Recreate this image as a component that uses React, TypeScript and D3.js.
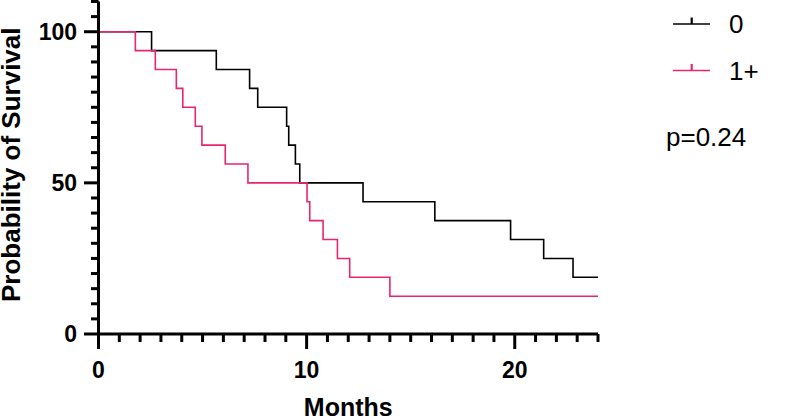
import React from "react";
import * as d3 from "d3";

const group0Times = [0, 2.55, 5.66, 7.26, 7.65, 9.04, 9.14, 9.46, 9.67, 12.71, 16.16, 19.8, 21.39, 22.8, 24];
const group0Surv = [100, 93.75, 87.5, 81.25, 75, 68.75, 62.5, 56.25, 50, 43.75, 37.5, 31.25, 25, 18.75, 18.75];
const group1Times = [0, 1.77, 2.73, 3.74, 4.05, 4.65, 4.97, 6.09, 7.18, 10.02, 10.15, 10.79, 11.48, 12.07, 14.0, 24];
const group1Surv = [100, 93.75, 87.5, 81.25, 75, 68.75, 62.5, 56.25, 50, 43.75, 37.5, 31.25, 25, 18.75, 12.5, 12.5];
const xMajorTicks = [0, 10, 20];
const yMajorTicks = [0, 50, 100];
const legendLabels = ["0", "1+"];
const pValueText = "p=0.24";
const xTitle = "Months";
const yTitle = "Probability of Survival";

const W = 786;
const H = 418;
const RED = "#e8266f";
const FONT = "'Liberation Sans', Arial, Helvetica, sans-serif";

export default function App() {
  const x = d3.scaleLinear().domain([0, 24]).range([98.5, 598]);
  const y = d3.scaleLinear().domain([0, 110]).range([334, 1.5]);

  const line = d3
    .line<[number, number]>()
    .x((d) => x(d[0]))
    .y((d) => y(d[1]))
    .curve(d3.curveStepAfter);

  const s0 = line(group0Times.map((t, i) => [t, group0Surv[i]] as [number, number])) || "";
  const s1 = line(group1Times.map((t, i) => [t, group1Surv[i]] as [number, number])) || "";

  const xMinor = d3.range(0, 25, 1);
  const yMinor = d3.range(0, 111, 5);

  const x0 = x(0);
  const y0 = y(0);

  const legendY = [24, 70.5];
  const legendColors = ["#000", RED];

  return (
    <svg width={W} height={H} style={{ position: "absolute", left: 0, top: 0 }} fontFamily={FONT}>
      <rect width={W} height={H} fill="#fff" />
      {/* curves */}
      <path d={s0} fill="none" stroke="#000" strokeWidth={1.6} />
      <path d={s1} fill="none" stroke={RED} strokeWidth={1.6} />

      {/* y axis */}
      <line x1={x0} x2={x0} y1={y(110)} y2={y0} stroke="#000" strokeWidth={3} />
      {yMinor.map((v) => {
        const major = yMajorTicks.includes(v);
        return (
          <line key={"yt" + v} x1={x0} x2={x0 - (major ? 14.5 : 7.5)} y1={y(v)} y2={y(v)} stroke="#000" strokeWidth={3} />
        );
      })}
      {yMajorTicks.map((v) => (
        <text key={"yl" + v} x={77} y={y(v)} dy="0.36em" textAnchor="end" fontSize={23} fontWeight="bold">
          {v}
        </text>
      ))}

      {/* x axis */}
      <line x1={x0} x2={x(24)} y1={y0} y2={y0} stroke="#000" strokeWidth={3} />
      {xMinor.map((v) => {
        const major = xMajorTicks.includes(v);
        return (
          <line key={"xt" + v} x1={x(v)} x2={x(v)} y1={y0} y2={y0 + (major ? 15 : 8)} stroke="#000" strokeWidth={3} />
        );
      })}
      {xMajorTicks.map((v) => (
        <text key={"xl" + v} x={x(v)} y={377.5} textAnchor="middle" fontSize={23} fontWeight="bold">
          {v}
        </text>
      ))}

      {/* titles */}
      <text x={x(12)} y={416} textAnchor="middle" fontSize={25} fontWeight="bold">
        {xTitle}
      </text>
      <text
        transform={`translate(20, ${(y(0) + y(110)) / 2 - 3}) rotate(-90)`}
        textAnchor="middle"
        fontSize={26}
        fontWeight="bold"
      >
        {yTitle}
      </text>

      {/* legend */}
      {legendLabels.map((lab, i) => (
        <g key={"lg" + i}>
          <line x1={673} x2={710} y1={legendY[i]} y2={legendY[i]} stroke={legendColors[i]} strokeWidth={1.6} />
          <line x1={691.7} x2={691.7} y1={legendY[i]} y2={legendY[i] - 6.5} stroke={legendColors[i]} strokeWidth={2.2} />
          <text x={729} y={legendY[i] + 9.3} fontSize={26}>
            {lab}
          </text>
        </g>
      ))}
      <text x={666} y={146} fontSize={26}>
        {pValueText}
      </text>
    </svg>
  );
}
